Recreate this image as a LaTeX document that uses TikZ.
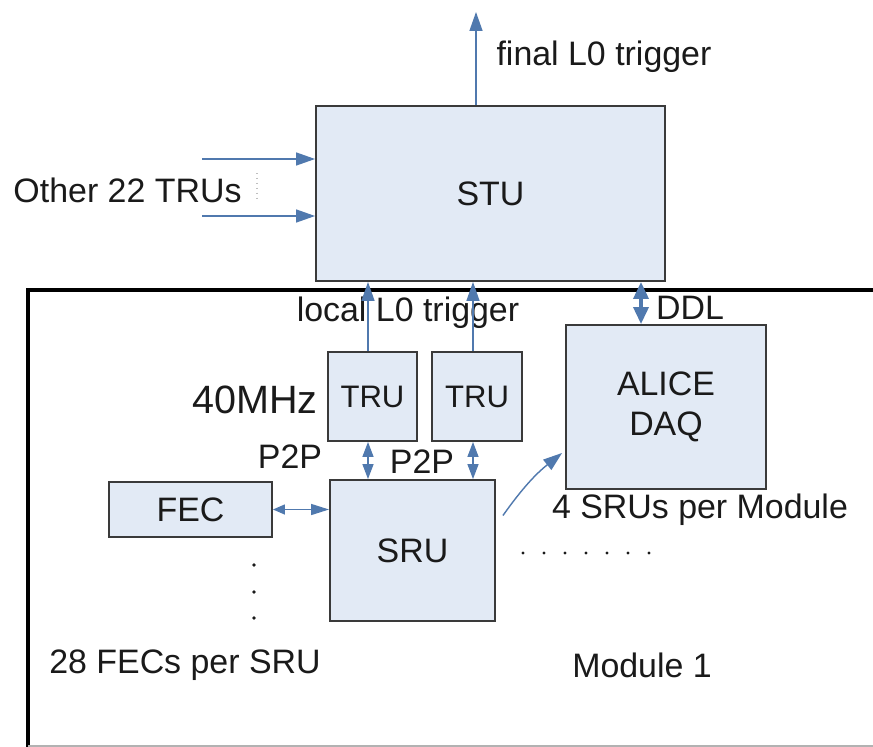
\documentclass[tikz,border=0pt]{standalone}
\usepackage{fontspec}
\setmainfont{Liberation Sans}
\usepackage{tikz}
\usetikzlibrary{arrows.meta,positioning,calc}
\definecolor{BoxFill}{HTML}{E2EAF5}
\definecolor{BoxLine}{HTML}{3A3A3A}
\definecolor{ArrBlue}{HTML}{5079AE}
\definecolor{TxtDark}{HTML}{1A1A1A}
\begin{document}
\begin{tikzpicture}[
x=0.02cm,y=-0.02cm,
font=\fontsize{19.3}{22.8}\selectfont,
text=TxtDark,
box/.style={draw=BoxLine,fill=BoxFill,line width=1.1pt,align=center,inner sep=0pt},
lbl/.style={inner sep=0pt},
arr/.style={-{Triangle[length=3.8mm,width=2.6mm]},ArrBlue,line width=0.8pt},
darr/.style={{Triangle[length=3mm,width=2.2mm]}-{Triangle[length=3mm,width=2.2mm]},ArrBlue,line width=0.8pt},
fecarr/.style={{Triangle[length=2.4mm,width=2mm]}-{Triangle[length=3.6mm,width=2.2mm]},ArrBlue,line width=0.8pt},
ddl/.style={{Triangle[length=3.4mm,width=3mm]}-{Triangle[length=3.4mm,width=3mm]},ArrBlue,line width=2pt}
]
\useasboundingbox[fill=white] (0,0) rectangle (873,747);
% module frame
\draw[line width=2.3pt,black] (28,749) -- (28,290) -- (880,290);
\draw[gray!60,line width=0.8pt] (28,746) -- (880,746);
\node[box,minimum width=69.8mm,minimum height=35mm] (stu) at (490.5,193.5) {STU};
\node[box,minimum width=17.8mm,minimum height=17.8mm,font=\fontsize{17.7}{21}\selectfont] (tru1) at (372.5,396.5) {TRU};
\node[box,minimum width=18mm,minimum height=17.8mm,font=\fontsize{17.7}{21}\selectfont] (tru2) at (477,396.5) {TRU};
\node[box,minimum width=40mm,minimum height=32.8mm] (daq) at (666,407) {ALICE\\DAQ};
\node[box,minimum width=32.6mm,minimum height=11mm] (fec) at (190.5,509.5) {FEC};
\node[box,minimum width=33mm,minimum height=28.2mm] (sru) at (412.5,550.5) {SRU};
\coordinate (out) at (476,12);
\coordinate (in1) at (202,159);
\coordinate (in2) at (202,216);
\node[lbl] (final) at (604,57) {final L0 trigger};
\node[lbl] (others) at (127.5,190) {Other 22 TRUs};
\node[lbl] (local) at (408,313) {local L0 trigger};
\node[lbl] (ddltxt) at (690,308) {DDL};
\node[lbl,anchor=east,font=\fontsize{22.5}{26}\selectfont] (clk) at (318,400) {40MHz};
\node[lbl] (p2pa) at (290,457) {P2P};
\node[lbl] (p2pb) at (422,462) {P2P};
\node[lbl] (persru) at (700,510) {4 SRUs per Module};
\node[lbl] (perfec) at (185,665) {28 FECs per SRU};
\node[lbl] (mod) at (642,665) {Module 1};
\draw[arr] (stu.north -| out) -- (out);
\draw[arr] (in1) -- (in1 -| stu.west);
\draw[arr] (in2) -- (in2 -| stu.west);
\draw[gray!50,dotted,line width=0.8pt] (257,173) -- (257,202);
\draw[arr] ([xshift=-0.9mm]tru1.north) -- ([xshift=-0.9mm]tru1.north |- stu.south);
\draw[arr] ([xshift=-0.8mm]tru2.north) -- ([xshift=-0.8mm]tru2.north |- stu.south);
\draw[ddl] ([xshift=-5mm]daq.north) -- ([xshift=-5mm]daq.north |- stu.south);
\draw[darr] ([xshift=-0.9mm]tru1.south) -- ([xshift=-0.9mm]tru1.south |- sru.north);
\draw[darr] ([xshift=-0.8mm]tru2.south) -- ([xshift=-0.8mm]tru2.south |- sru.north);
\draw[fecarr] (fec.east) -- (fec.east -| sru.west);
\draw[arr] ([shift={(1.4mm,7mm)}]sru.east) to[bend left=8] ([shift={(-0.6mm,-9.2mm)}]daq.west);
\foreach \dx in {0,...,6}
  \fill[TxtDark] (523+21*\dx,553) circle (1.7);
\foreach \dy in {565,592,618}
  \fill[TxtDark] (254,\dy) circle (1.8);
\end{tikzpicture}
\end{document}
